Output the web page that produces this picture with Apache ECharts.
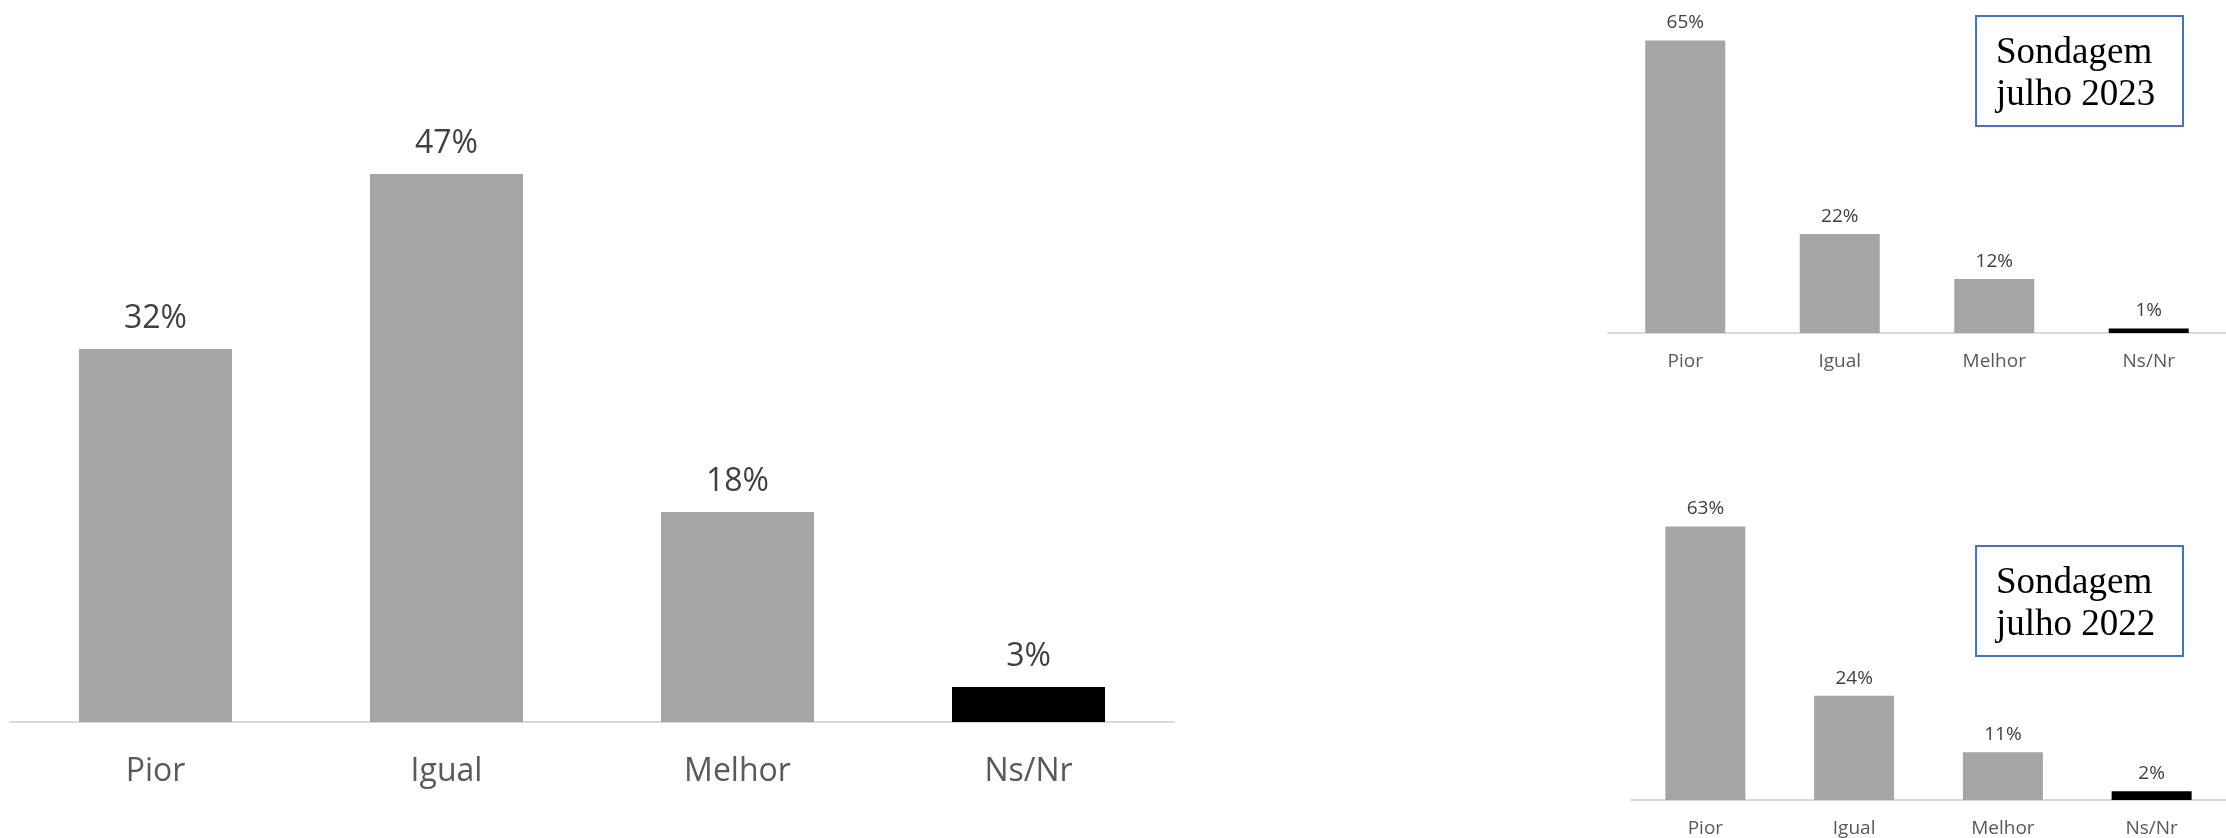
<!DOCTYPE html>
<html>
<head>
<meta charset="utf-8">
<script src="https://cdn.jsdelivr.net/npm/echarts@6/dist/echarts.min.js"></script>
<style>
  html, body { margin: 0; padding: 0; background: #ffffff; }
  #chart { width: 2226px; height: 838px; }
</style>
</head>
<body>
<div id="chart"></div>
<script>
// Survey answers: categories and the share (%) of each answer
const categories = ['Pior', 'Igual', 'Melhor', 'Ns/Nr'];
const valuesCurrent = [32, 47, 18, 3];
const values2023 = [65, 22, 12, 1];
const values2022 = [63, 24, 11, 2];
const boxLabel2023 = ['Sondagem', 'julho 2023'];
const boxLabel2022 = ['Sondagem', 'julho 2022'];

const GRAY = '#a5a5a5';
const BLACK = '#000000';
const FONT = '"Open Sans", "Noto Sans", sans-serif';

const chart = echarts.init(document.getElementById('chart'), null, { renderer: 'canvas' });

// one panel = grid + category axis + value axis + bar series
function panel(idx, grid, yMax, values, big) {
  const fs = big ? 32 : 19;
  return {
    grid: Object.assign({ containLabel: false }, grid),
    xAxis: {
      type: 'category',
      gridIndex: idx,
      data: categories,
      axisLine: { show: true, lineStyle: { color: '#d9d9d9', width: 2 } },
      axisTick: { show: false },
      axisLabel: { color: '#595959', fontFamily: FONT, fontSize: fs, margin: big ? 34 : 19 }
    },
    yAxis: {
      type: 'value',
      gridIndex: idx,
      min: 0,
      max: yMax,
      show: false,
      splitLine: { show: false }
    },
    series: {
      type: 'bar',
      xAxisIndex: idx,
      yAxisIndex: idx,
      data: values,
      barWidth: big ? 153 : 80,
      itemStyle: {
        color: function (p) { return categories[p.dataIndex] === 'Ns/Nr' ? BLACK : GRAY; }
      },
      label: {
        show: true,
        position: 'top',
        distance: big ? 14 : 8,
        formatter: '{c}%',
        color: '#404040',
        fontFamily: FONT,
        fontSize: fs
      },
      animation: false
    }
  };
}

const panels = [
  panel(0, { left: 10, top: 139, width: 1164, height: 583 }, 50, valuesCurrent, true),
  panel(1, { left: 1608, top: 18, width: 628, height: 315 }, 70, values2023, false),
  panel(2, { left: 1631, top: 496, width: 608, height: 305 }, 70, values2022, false)
];

// framed caption naming the survey round
function caption(x, y, lines) {
  return {
    type: 'group',
    left: x,
    top: y,
    children: [
      {
        type: 'rect',
        shape: { x: 0, y: 0, width: 207, height: 110 },
        style: { fill: '#ffffff', stroke: '#4472c4', lineWidth: 2 }
      },
      {
        type: 'text',
        x: 20,
        y: 58,
        style: {
          text: lines.join('\n'),
          fontFamily: '"Liberation Serif", "Times New Roman", serif',
          fontSize: 37,
          lineHeight: 42,
          fill: '#000000',
          textAlign: 'left',
          textVerticalAlign: 'middle'
        }
      }
    ]
  };
}

chart.setOption({
  backgroundColor: '#ffffff',
  animation: false,
  grid: panels.map(p => p.grid),
  xAxis: panels.map(p => p.xAxis),
  yAxis: panels.map(p => p.yAxis),
  series: panels.map(p => p.series),
  graphic: [
    caption(1975, 15, boxLabel2023),
    caption(1975, 545, boxLabel2022)
  ]
});
</script>
</body>
</html>
